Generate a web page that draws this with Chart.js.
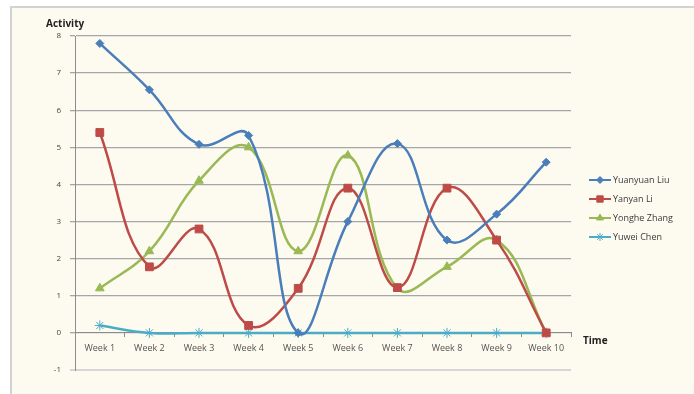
<!DOCTYPE html>
<html>
<head>
<meta charset="utf-8">
<script src="https://cdn.jsdelivr.net/npm/chart.js@4/dist/chart.umd.min.js"></script>
<style>
  html, body { margin: 0; padding: 0; background: #ffffff; overflow: hidden; }
  #frame {
    position: absolute; left: 10px; top: 6px; width: 720px; height: 420px;
    background: #fdfaef; border: 2px solid #d2d2d2; box-sizing: border-box;
  }
  #wrap { position: absolute; left: 0; top: 0; width: 694px; height: 394px; }
</style>
</head>
<body>
<div id="frame"></div>
<div id="wrap"><canvas id="chart" width="694" height="394"></canvas></div>
<script>
// Weekly activity per person
const weeks = ['Week 1', 'Week 2', 'Week 3', 'Week 4', 'Week 5', 'Week 6', 'Week 7', 'Week 8', 'Week 9', 'Week 10'];
const yuanyuanLiu = [7.8, 6.55, 5.08, 5.32, 0, 3.0, 5.1, 2.5, 3.2, 4.6];
const yanyanLi    = [5.4, 1.78, 2.8, 0.2, 1.2, 3.9, 1.22, 3.9, 2.5, 0];
const yongheZhang = [1.2, 2.2, 4.1, 5.0, 2.2, 4.78, 1.2, 1.78, 2.5, 0];
const yuweiChen   = [0.2, 0, 0, 0, 0, 0, 0, 0, 0, 0];
const yTicks = [-1, 0, 1, 2, 3, 4, 5, 6, 7, 8];

const FONT = '"Open Sans", "Liberation Sans", sans-serif';

function series(label, data, color, style, radius) {
  return {
    label, data,
    borderColor: color, backgroundColor: color,
    pointBackgroundColor: color, pointBorderColor: color,
    pointStyle: style, pointRadius: radius, pointBorderWidth: 1,
    borderWidth: 2.5, tension: 0.42, fill: false
  };
}

// Axis titles and a line-plus-marker legend on the right
const extras = {
  id: 'extras',
  afterDraw(chart) {
    const ctx = chart.ctx;
    ctx.save();
    ctx.fillStyle = '#222222';
    ctx.font = 'bold 10px ' + FONT;
    ctx.textBaseline = 'middle';
    ctx.textAlign = 'left';
    ctx.fillText('Activity', 46, 24);
    ctx.fillText('Time', 583, 341);

    const x0 = 589, x1 = 611;
    const ys = [180, 199, 218, 237];
    chart.data.datasets.forEach((ds, i) => {
      const y = ys[i];
      ctx.strokeStyle = ds.borderColor;
      ctx.fillStyle = ds.borderColor;
      ctx.lineWidth = 2;
      ctx.beginPath(); ctx.moveTo(x0, y); ctx.lineTo(x1, y); ctx.stroke();
      ctx.lineWidth = 1;
      Chart.helpers.drawPoint(ctx, {
        pointStyle: ds.pointStyle, radius: Math.max(3.5, ds.pointRadius - 1), borderWidth: 1, rotation: 0
      }, (x0 + x1) / 2, y);
      ctx.fillStyle = '#3a3a3a';
      ctx.font = '9px ' + FONT;
      ctx.fillText(ds.label, 613, y + 0.5);
    });
    ctx.restore();
  }
};

new Chart(document.getElementById('chart'), {
  type: 'line',
  data: {
    labels: weeks,
    datasets: [
      series('Yuanyuan Liu', yuanyuanLiu, '#4a7ebb', 'rectRot', 4),
      series('Yanyan Li', yanyanLi, '#be4b48', 'rect', 5.5),
      series('Yonghe Zhang', yongheZhang, '#98b954', 'triangle', 5),
      series('Yuwei Chen', yuweiChen, '#4bacc6', 'star', 5)
    ]
  },
  options: {
    responsive: false,
    animation: false,
    devicePixelRatio: 1,
    layout: { padding: { left: 0, right: 123, top: 36, bottom: 24 } },
    plugins: { legend: { display: false }, tooltip: { enabled: false } },
    scales: {
      x: {
        type: 'category',
        position: { y: 0 },
        offset: true,
        grid: { display: true, drawOnChartArea: false, drawTicks: true, tickLength: 4, offset: true, color: '#8c8c8c' },
        border: { display: true, color: '#8c8c8c', width: 1 },
        ticks: { color: '#555555', font: { family: FONT, size: 9 }, padding: 6, maxRotation: 0, autoSkip: false }
      },
      y: {
        min: -1, max: 8,
        afterFit(scale) { scale.width = 75; },
        afterBuildTicks(scale) { scale.ticks = yTicks.map(v => ({ value: v })); },
        grid: {
          color: ctx => (ctx.tick && ctx.tick.value === -1) ? '#d6d6d6' : '#a6a6a6',
          lineWidth: ctx => (ctx.tick && ctx.tick.value === -1) ? 2 : 1.3,
          tickLength: 5
        },
        border: { display: true, color: '#8c8c8c', width: 1 },
        ticks: { color: '#444444', font: { family: FONT, size: 8 }, padding: 9 }
      }
    }
  },
  plugins: [extras]
});
</script>
</body>
</html>
